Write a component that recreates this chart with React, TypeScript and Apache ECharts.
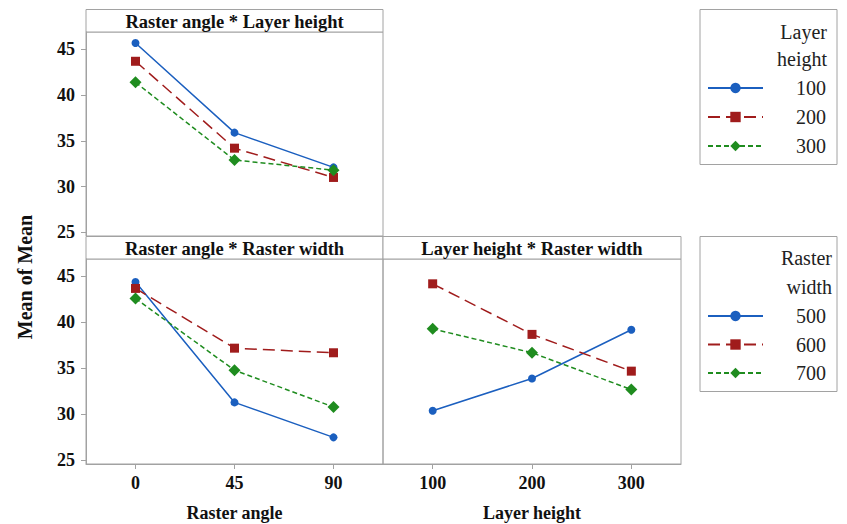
import React, { useEffect, useRef } from "react";
import * as echarts from "echarts";

// ---- data ----
const rasterAngles = ["0", "45", "90"];
const layerHeights = ["100", "200", "300"];
const layerHeightNames = ["100", "200", "300"];
const rasterWidthNames = ["500", "600", "700"];
const yTicks = [25, 30, 35, 40, 45];

// Raster angle * Layer height
const angleByLayer100 = [45.7, 35.9, 32.1];
const angleByLayer200 = [43.7, 34.2, 31.0];
const angleByLayer300 = [41.4, 32.9, 31.8];
// Raster angle * Raster width
const angleByWidth500 = [44.4, 31.3, 27.5];
const angleByWidth600 = [43.7, 37.2, 36.7];
const angleByWidth700 = [42.6, 34.8, 30.8];
// Layer height * Raster width
const layerByWidth500 = [30.4, 33.9, 39.2];
const layerByWidth600 = [44.2, 38.7, 34.7];
const layerByWidth700 = [39.3, 36.7, 32.7];

const panelTitles = [
  "Raster angle * Layer height",
  "Raster angle * Raster width",
  "Layer height * Raster width",
];

const SERIF = "Liberation Serif";
const GRAY = "#a2a2a2";

const lineStyles = [
  { color: "#1b5fbf", type: "solid" as any, symbol: "circle", size: 8 },
  { color: "#a01c1c", type: [12, 6] as any, symbol: "rect", size: 9 },
  { color: "#1f8c1f", type: [5, 3] as any, symbol: "diamond", size: 12 },
];

function mkSeries(name: string, data: number[], axis: number, styleIdx: number) {
  const s = lineStyles[styleIdx];
  return {
    type: "line",
    name,
    data,
    xAxisIndex: axis,
    yAxisIndex: axis,
    symbol: s.symbol,
    symbolSize: s.size,
    showAllSymbol: true,
    lineStyle: { color: s.color, width: 1.5, type: s.type },
    itemStyle: { color: s.color },
    emphasis: { disabled: true },
    z: 3,
  };
}

const grids = [
  { left: 86, top: 32, width: 297, height: 204 },
  { left: 86, top: 259, width: 297, height: 205 },
  { left: 383, top: 259, width: 298, height: 205 },
];

const tickLabelStyle = {
  fontFamily: SERIF,
  fontWeight: "bold" as const,
  fontSize: 18,
  color: "#111",
};

function valueAxis(gridIndex: number, showLabels: boolean) {
  return {
    type: "value",
    gridIndex,
    min: 24.6,
    max: 46.9,
    splitLine: { show: false },
    axisLine: { show: showLabels, lineStyle: { color: GRAY, width: 1 } },
    axisTick: {
      show: showLabels,
      customValues: yTicks,
      length: 5,
      lineStyle: { color: GRAY, width: 1 },
    },
    axisLabel: {
      show: showLabels,
      customValues: yTicks,
      margin: 11,
      ...tickLabelStyle,
    },
  };
}

function catAxis(gridIndex: number, data: string[], name: string | null) {
  const show = name !== null;
  return {
    type: "category",
    gridIndex,
    data,
    boundaryGap: true,
    name: name ?? "",
    nameLocation: "middle",
    nameGap: 40,
    nameTextStyle: {
      fontFamily: SERIF,
      fontWeight: "bold",
      fontSize: 18,
      color: "#111",
    },
    axisLine: { show, lineStyle: { color: GRAY, width: 1 } },
    axisTick: {
      show,
      alignWithLabel: true,
      length: 5,
      lineStyle: { color: GRAY, width: 1 },
    },
    axisLabel: { show, margin: 10, ...tickLabelStyle },
  };
}

function legendCfg(names: string[], top: number, gap: number) {
  return {
    data: names,
    orient: "vertical",
    left: 707,
    top,
    padding: 0,
    itemWidth: 55,
    itemHeight: 13,
    itemGap: gap,
    selectedMode: false,
    formatter: "{r|{name}}",
    textStyle: {
      fontFamily: SERIF,
      fontSize: 20,
      color: "#222",
      rich: {
        r: { width: 58, align: "right", fontFamily: SERIF, fontSize: 20, color: "#222" },
      },
    },
  };
}

function stripGraphic(x: number, y: number, w: number, h: number, text: string) {
  return [
    {
      type: "rect",
      shape: { x, y, width: w, height: h },
      style: { fill: "#fff", stroke: GRAY, lineWidth: 1 },
      silent: true,
    },
    {
      type: "text",
      x: x + w / 2,
      y: y + h / 2 + 1,
      style: {
        text,
        align: "center",
        verticalAlign: "middle",
        fontFamily: SERIF,
        fontWeight: "bold",
        fontSize: 18.5,
        fill: "#111",
      },
      silent: true,
    },
  ];
}

export default function App() {
  const ref = useRef<HTMLDivElement>(null);

  useEffect(() => {
    if (!ref.current) return;
    const chart = echarts.init(ref.current, null, { renderer: "svg" });

    const option: any = {
      animation: false,
      backgroundColor: "#fff",
      textStyle: { fontFamily: SERIF },
      grid: grids.map((g) => ({
        ...g,
        show: true,
        borderColor: GRAY,
        borderWidth: 1,
        backgroundColor: "transparent",
      })),
      xAxis: [
        catAxis(0, rasterAngles, null),
        catAxis(1, rasterAngles, "Raster angle"),
        catAxis(2, layerHeights, "Layer height"),
      ],
      yAxis: [valueAxis(0, true), valueAxis(1, true), valueAxis(2, false)],
      legend: [
        legendCfg(layerHeightNames, 78, 9),
        legendCfg(rasterWidthNames, 306, 8.5),
      ],
      series: [
        mkSeries(layerHeightNames[0], angleByLayer100, 0, 0),
        mkSeries(layerHeightNames[1], angleByLayer200, 0, 1),
        mkSeries(layerHeightNames[2], angleByLayer300, 0, 2),
        mkSeries(rasterWidthNames[0], angleByWidth500, 1, 0),
        mkSeries(rasterWidthNames[1], angleByWidth600, 1, 1),
        mkSeries(rasterWidthNames[2], angleByWidth700, 1, 2),
        mkSeries(rasterWidthNames[0], layerByWidth500, 2, 0),
        mkSeries(rasterWidthNames[1], layerByWidth600, 2, 1),
        mkSeries(rasterWidthNames[2], layerByWidth700, 2, 2),
      ],
      graphic: [
        ...stripGraphic(86, 9.5, 297, 22.5, panelTitles[0]),
        ...stripGraphic(86, 236.5, 297, 22.5, panelTitles[1]),
        ...stripGraphic(383, 236.5, 298, 22.5, panelTitles[2]),
        {
          type: "rect",
          shape: { x: 700, y: 9.5, width: 137, height: 155 },
          style: { fill: "transparent", stroke: GRAY, lineWidth: 1 },
          silent: true,
          z: -1,
        },
        {
          type: "rect",
          shape: { x: 700, y: 236.5, width: 137, height: 155 },
          style: { fill: "transparent", stroke: GRAY, lineWidth: 1 },
          silent: true,
          z: -1,
        },
        {
          type: "text",
          x: 827,
          y: 18.5,
          style: {
            text: "Layer\nheight",
            align: "right",
            verticalAlign: "top",
            lineHeight: 27,
            fontFamily: SERIF,
            fontSize: 20,
            fill: "#222",
          },
          silent: true,
        },
        {
          type: "text",
          x: 832,
          y: 243.5,
          style: {
            text: "Raster\nwidth",
            align: "right",
            verticalAlign: "top",
            lineHeight: 29,
            fontFamily: SERIF,
            fontSize: 20,
            fill: "#222",
          },
          silent: true,
        },
        {
          type: "text",
          x: 25,
          y: 277,
          rotation: Math.PI / 2,
          style: {
            text: "Mean of Mean",
            align: "center",
            verticalAlign: "middle",
            fontFamily: SERIF,
            fontWeight: "bold",
            fontSize: 20,
            fill: "#111",
          },
          silent: true,
        },
      ],
    };

    chart.setOption(option);
    return () => {
      chart.dispose();
    };
  }, []);

  return (
    <div
      ref={ref}
      style={{ position: "absolute", left: 0, top: 0, width: 847, height: 524 }}
    />
  );
}
